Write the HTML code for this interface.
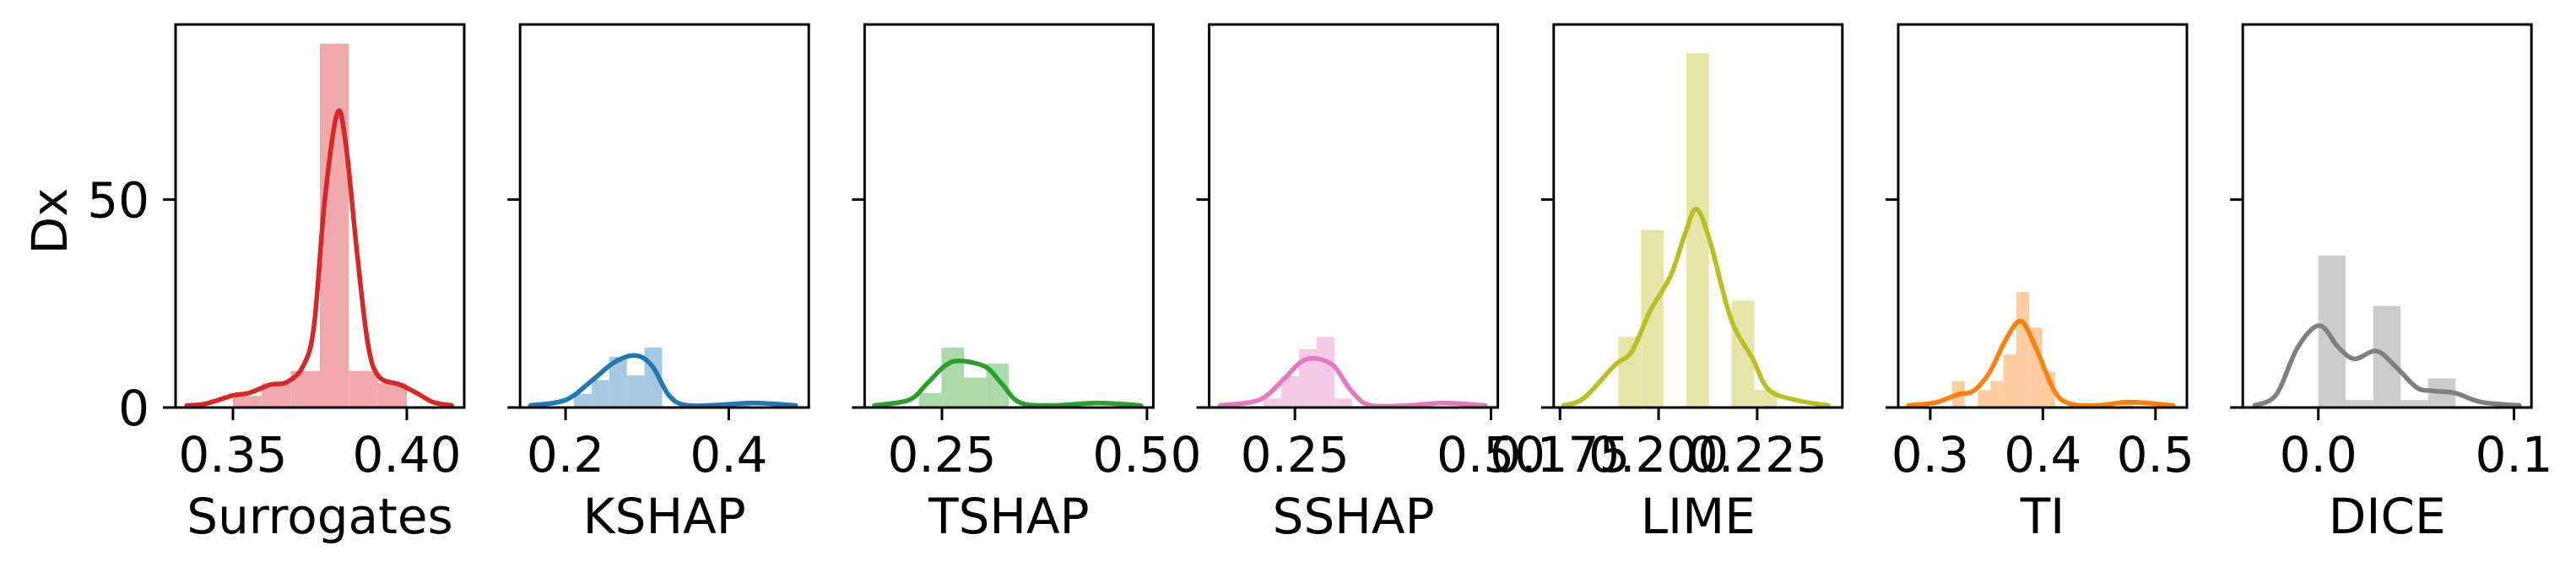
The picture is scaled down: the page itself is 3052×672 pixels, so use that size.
<!DOCTYPE html>
<html><head><meta charset="utf-8"><style>
html,body{margin:0;padding:0;background:#fff;}
svg{display:block;font-family:"DejaVu Sans","Liberation Sans",sans-serif;}
</style></head><body>
<svg id="chart" width="3052" height="672" viewBox="0 0 3052 672" xmlns="http://www.w3.org/2000/svg">
<text x="0" y="0" font-size="58" text-anchor="middle" transform="translate(79,262) rotate(-90)">Dx</text>
</svg>
<script>
// ---- data ----
const panelNames = ["Surrogates","KSHAP","TSHAP","SSHAP","LIME","TI","DICE"];
const lineColors = ["#d62728","#1f77b4","#2ca02c","#e377c2","#bcbd22","#ff7f0e","#7f7f7f"];
const barColors = ["#efa9a9","#a6c9e1","#abd9ab","#f4c9e7","#e4e5a7","#ffcc9f","#cccccc"];
const xDomains = [[0.3335,0.4165],[0.1443,0.498],[0.1557,0.5077],[0.1407,0.5087],[0.1734,0.2466],[0.2716,0.5279],[-0.0386,0.1089]];
const xTicks = [[0.35,0.40],[0.2,0.4],[0.25,0.50],[0.25,0.50],[0.175,0.200,0.225],[0.3,0.4,0.5],[0.0,0.1]];
const xTickLabels = [["0.35","0.40"],["0.2","0.4"],["0.25","0.50"],["0.25","0.50"],["0.175","0.200","0.225"],["0.3","0.4","0.5"],["0.0","0.1"]];
const yTicks = [0,50];
const yTickLabels = ["0","50"];
const yMax = 92.1;
const binStart = [0.35,0.2103,0.2222,0.2097,0.1898,0.3192,0.0];
const binWidth = [0.008333,0.0216,0.0273,0.0227,0.00574,0.01146,0.01402];
const binHeights = [
 [2.8,5.9,8.8,87.5,8.8,5.9],
 [3.3,6.6,12.2,7.7,14.4,0,0,0,0,0.5],
 [3.5,14.4,7.2,10.6,0,0,0,0,0,0.4],
 [2.2,7.5,14,17,2.2,0,0,0,0,0,0,0,0.4],
 [17,42.7,0,85.2,0,25.7,4.2],
 [6.4,0,4.2,6.4,12.8,27.8,19.2,8.6,0,0,0,0,0,1.8],
 [36.6,1.8,24.4,1.8,7.0]
];
const kdeX = [
 [0.3367,0.3421,0.350,0.3546,0.3608,0.3655,0.3702,0.3733,0.3764,0.380,0.3825,0.3857,0.3888,0.3919,0.398,0.4028,0.4075,0.4129],
 [0.157,0.2,0.233,0.260,0.286,0.306,0.326,0.346,0.386,0.432,0.482],
 [0.1676,0.2097,0.2316,0.2534,0.2719,0.303,0.323,0.345,0.385,0.440,0.4926],
 [0.1547,0.2043,0.2346,0.2572,0.2766,0.2994,0.322,0.345,0.3941,0.4395,0.4928],
 [0.1759,0.1811,0.1887,0.1932,0.1978,0.2031,0.2069,0.2096,0.2129,0.2183,0.2238,0.2279,0.2348,0.2430],
 [0.2806,0.3046,0.324,0.3383,0.3525,0.3671,0.3805,0.3935,0.4102,0.4245,0.4485,0.4775,0.5159],
 [-0.0325,-0.0215,-0.0105,0.0006,0.0102,0.0185,0.0296,0.0392,0.0503,0.0586,0.0697,0.0834,0.1027]
];
const kdeY = [
 [0.5,0.9,2.9,3.5,5.5,6.1,10,19.6,50,70.8,63,37,15.3,7.5,5.5,3.5,1.3,0.5],
 [0.5,1.8,6.6,10.9,12.5,10,3.1,0.6,0.6,1.1,0.5],
 [0.5,1.8,5.7,10,11.2,9.8,5.7,1.2,0.5,1.1,0.5],
 [0.5,1.8,6.6,10.9,11.8,10,4,0.6,0.5,1.1,0.5],
 [0.5,2.3,10,13.5,23.1,31.8,42.3,47.7,40.5,21.4,11.8,4.3,1.8,0.5],
 [0.5,1.2,3.1,4,8.4,16.3,20.8,14.5,4,0.9,0.5,1.3,0.5],
 [0.5,3.1,14.5,19.7,14.5,11.7,13.6,10,4.8,4,3.5,1.3,0.5]
];
// ---- layout ----
const svgEl = document.getElementById('chart');
const NS = 'http://www.w3.org/2000/svg';
const panelLeft0 = 208, panelPitch = 408.2, panelW = 342, plotTop = 29, plotBottom = 483;
function mk(tag, attrs, parent){const e=document.createElementNS(NS,tag);for(const k in attrs)e.setAttribute(k,attrs[k]);(parent||svgEl).appendChild(e);return e;}
function smoothPath(pts){
  let d='M'+pts[0][0].toFixed(1)+','+pts[0][1].toFixed(1);
  for(let i=0;i<pts.length-1;i++){
    const p0=pts[Math.max(0,i-1)],p1=pts[i],p2=pts[i+1],p3=pts[Math.min(pts.length-1,i+2)];
    const c1=[p1[0]+(p2[0]-p0[0])/6,p1[1]+(p2[1]-p0[1])/6];
    const c2=[p2[0]-(p3[0]-p1[0])/6,p2[1]-(p3[1]-p1[1])/6];
    d+=' C'+c1[0].toFixed(1)+','+c1[1].toFixed(1)+' '+c2[0].toFixed(1)+','+c2[1].toFixed(1)+' '+p2[0].toFixed(1)+','+p2[1].toFixed(1);
  }
  return d;
}
const yScale = v => plotBottom - v/yMax*(plotBottom-plotTop);
for(let p=0;p<panelNames.length;p++){
  const L = panelLeft0 + p*panelPitch, R = L + panelW;
  const d0 = xDomains[p][0], d1 = xDomains[p][1];
  const xScale = v => L + (v-d0)/(d1-d0)*panelW;
  const g = mk('g',{});
  
  
  binHeights[p].forEach((h,i)=>{
    if(h<=0) return;
    const x0 = xScale(binStart[p]+i*binWidth[p]), x1 = xScale(binStart[p]+(i+1)*binWidth[p]);
    const r = mk('rect',{x:x0,y:yScale(h),width:x1-x0,height:plotBottom-yScale(h),fill:barColors[p]},g);
    
    
  });
  const pts = kdeX[p].map((x,i)=>[xScale(x),yScale(kdeY[p][i])]);
  const path = mk('path',{d:smoothPath(pts),fill:'none',stroke:lineColors[p],'stroke-width':5.5,'stroke-linejoin':'round','stroke-linecap':'round'},g);
  
  
  const fr = mk('rect',{x:L,y:plotTop,width:panelW,height:plotBottom-plotTop,fill:'none',stroke:'#000','stroke-width':3},g);
  
  
  yTicks.forEach((t,i)=>{
    const y=yScale(t);
    const tk = mk('line',{x1:L-15,x2:L,y1:y,y2:y,stroke:'#000','stroke-width':3},g);
    
    
    if(p===0){
      const tl = mk('text',{x:L-31,y:y+21,'font-size':58,'text-anchor':'end'},g);
      tl.textContent = yTickLabels[i];
      
      
    }
  });
  xTicks[p].forEach((t,i)=>{
    const x=xScale(t);
    const tk = mk('line',{x1:x,x2:x,y1:plotBottom,y2:plotBottom+15,stroke:'#000','stroke-width':3},g);
    
    
    const tl = mk('text',{x:x,y:559,'font-size':58,'text-anchor':'middle'},g);
    tl.textContent = xTickLabels[p][i];
    
    
  });
  const at = mk('text',{x:(L+R)/2,y:632,'font-size':58,'text-anchor':'middle'},g);
  at.textContent = panelNames[p];
  
  
}
</script>
</body></html>
